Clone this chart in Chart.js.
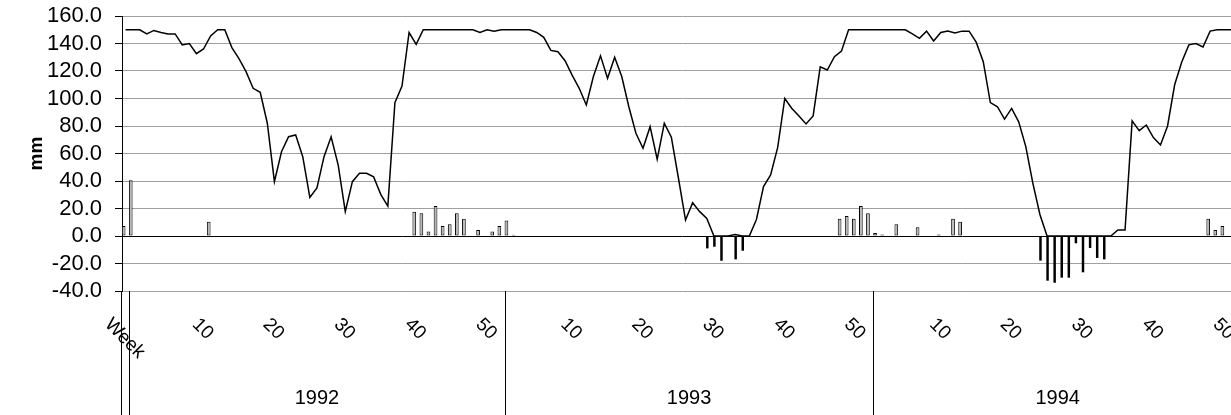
<!DOCTYPE html>
<html lang="en">
<head>
    <meta charset="UTF-8">
    <title>Soil water balance 1992-1994</title>
    <script src="https://cdn.jsdelivr.net/npm/chart.js"></script>
    <style>
        html, body { margin: 0; padding: 0; overflow: hidden; background: #fff; }
    </style>
</head>
<body>
    <canvas id="balanceChart" width="1242" height="415"></canvas>

    <script>
        // categories: one leading "Week" slot, then the weeks of each year
        var years = ['1992', '1993', '1994'];
        var firstWeek = [0, 1, 1];
        var lastWeek = [52, 52, 52];
        var labelEvery = 10;

        // soil water (mm), one value per category
        var water1992 = [150, 150, 150, 147, 149.5, 148, 147, 147, 139, 140,
            132.6, 136, 145.5, 150, 150, 137, 129, 119.5, 107.4, 104.5,
            82, 39.5, 61.3, 72.2, 73.5, 57.7, 28, 35, 57.7, 72.2,
            51.6, 17.7, 39.5, 45.6, 45.6, 43, 30.3, 21.8, 97, 109,
            148, 139.4, 150, 150, 150, 150, 150, 150, 150, 150,
            148, 150, 149, 150];
        var water1993 = [150, 150, 150, 150, 148, 144.5,
            135, 134, 127.5, 117, 107.4, 95.3, 116, 131, 114.7, 130,
            116, 94, 74.7, 63.8, 79.5, 55.8, 82, 71.8, 42, 11.6,
            24.2, 17.7, 12.8, 0, 0, 0, 1, 0, 0, 12,
            36, 44.4, 64.5, 100, 92.8, 87.3, 81.5, 87.3, 123, 120.7,
            130.4, 134.5, 150, 150, 150, 150];
        var water1994 = [150, 150, 150, 150,
            150, 147, 143.8, 149, 141.8, 148, 149, 147.6, 149, 149,
            141, 126.8, 97, 94, 85, 92.8, 83, 65, 38.3, 15.5,
            0, 0, 0, 0, 0, 0, 0, 0, 0, 0,
            4.4, 4.4, 83.7, 76.6, 80.7, 71.6, 66.2, 80, 110, 126.5,
            139, 140, 137.5, 149, 150, 150, 150, 150];

        // water surplus (mm)
        var surplus1992 = [7.3, 40.5, 0, 0, 0, 0, 0, 0, 0, 0,
            0, 0, 10.4, 0, 0, 0, 0, 0, 0, 0,
            0, 0, 0, 0, 0, 0, 0, 0, 0, 0,
            0, 0, 0, 0, 0, 0, 0, 0, 0, 0,
            0, 17.7, 16.5, 3.2, 21.8, 7.3, 8.5, 16.5, 12.5, 0,
            4.3, 0, 3.2, 7.3];
        var surplus1993 = [11.3, 1, 0, 0, 0, 0,
            0, 0, 0, 0, 0, 0, 0, 0, 0, 0,
            0, 0, 0, 0, 0, 0, 0, 0, 0, 0,
            0, 0, 0, 0, 0, 0, 0, 0, 0, 0,
            0, 0, 0, 0, 0, 0, 0, 0, 0, 0,
            0, 12.5, 14.5, 12.5, 21.8, 16.5];
        var surplus1994 = [2.2, 1.1, 0, 8.5,
            0, 0, 6.3, 0, 0, 1.1, 0, 12.5, 10.4, 0,
            0, 0, 0, 0, 0, 0, 0, 0, 0, 0,
            0, 0, 0, 0, 0, 0, 0, 0, 0, 0,
            0, 0, 0, 0, 0, 0, 0, 0, 0, 0,
            0, 0, 0, 12.5, 4.4, 7.3, 0, 0];

        // water deficit (mm, negative)
        var deficit1992 = new Array(54).fill(0);
        var deficit1993 = [0, 0, 0, 0, 0, 0,
            0, 0, 0, 0, 0, 0, 0, 0, 0, 0,
            0, 0, 0, 0, 0, 0, 0, 0, 0, 0,
            0, 0, -9, -7.8, -18, 0, -17, -10.7, 0, 0,
            0, 0, 0, 0, 0, 0, 0, 0, 0, 0,
            0, 0, 0, 0, 0, 0];
        var deficit1994 = [0, 0, 0, 0,
            0, 0, 0, 0, 0, 0, 0, 0, 0, 0,
            0, 0, 0, 0, 0, 0, 0, 0, 0, -17.9,
            -32.5, -34, -30.3, -30.3, -5.3, -26.4, -8.7, -16, -17, 0,
            0, 0, 0, 0, 0, 0, 0, 0, 0, 0,
            0, 0, 0, 0, 0, 0, 0, 0];

        // build the category list
        var labels = ['Week'];
        var weekNo = [null];
        var groupStart = [];
        years.forEach(function (y, k) {
            groupStart.push(labels.length);
            for (var w = firstWeek[k]; w <= lastWeek[k]; w++) {
                labels.push(String(w));
                weekNo.push(w);
            }
        });

        var water = water1992.concat(water1993, water1994);
        var surplus = surplus1992.concat(surplus1993, surplus1994).map(function (v) { return v || null; });
        var deficit = deficit1992.concat(deficit1993, deficit1994).map(function (v) { return v || null; });

        var font = '"Liberation Sans", Arial, sans-serif';

        // week labels (rotated down-right), year groups and their separators
        var groupAxis = {
            id: 'groupAxis',
            afterDraw: function (chart) {
                var ctx = chart.ctx;
                var area = chart.chartArea;
                var x = chart.scales.x;
                var half = (x.getPixelForValue(1) - x.getPixelForValue(0)) / 2;
                var bottom = chart.height;

                function vline(px) {
                    px = Math.round(px) + 0.5;
                    ctx.beginPath();
                    ctx.moveTo(px, area.bottom);
                    ctx.lineTo(px, bottom);
                    ctx.stroke();
                }

                ctx.save();
                ctx.strokeStyle = '#000';
                ctx.lineWidth = 1;
                vline(area.left - 1);
                var seps = groupStart.map(function (i) { return x.getPixelForValue(i) - half; });
                seps.forEach(vline);

                ctx.fillStyle = '#000';
                ctx.font = '19px ' + font;
                labels.forEach(function (lab, i) {
                    if (i > 0 && (weekNo[i] === 0 || weekNo[i] % labelEvery !== 0)) return;
                    var m = ctx.measureText(lab);
                    var h = m.actualBoundingBoxAscent + m.actualBoundingBoxDescent;
                    var ext = (m.width + h) * Math.SQRT1_2;
                    ctx.save();
                    ctx.translate(x.getPixelForValue(i), area.bottom + 25 + ext / 2);
                    ctx.rotate(Math.PI / 4);
                    ctx.fillText(lab, -m.width / 2, (m.actualBoundingBoxAscent - m.actualBoundingBoxDescent) / 2);
                    ctx.restore();
                });

                ctx.font = '20px ' + font;
                ctx.textAlign = 'center';
                ctx.textBaseline = 'middle';
                years.forEach(function (y, k) {
                    var end = k + 1 < seps.length ? seps[k + 1] : area.right;
                    ctx.fillText(y, (seps[k] + end) / 2, 398);
                });
                ctx.restore();
            }
        };

        var ctx = document.getElementById('balanceChart').getContext('2d');
        var balanceChart = new Chart(ctx, {
            type: 'bar',
            data: {
                labels: labels,
                datasets: [{
                    type: 'line',
                    label: 'Soil water',
                    data: water,
                    borderColor: '#000',
                    borderWidth: 1.5,
                    pointRadius: 0,
                    tension: 0,
                    fill: false,
                    order: 0
                }, {
                    label: 'Surplus',
                    data: surplus,
                    backgroundColor: '#b8b8b8',
                    borderColor: '#000',
                    borderWidth: 1,
                    borderSkipped: false,
                    categoryPercentage: 1.066,
                    barPercentage: 0.98,
                    order: 1
                }, {
                    label: 'Deficit',
                    data: deficit,
                    backgroundColor: '#000',
                    borderWidth: 0,
                    categoryPercentage: 0.28,
                    barPercentage: 2.5,
                    order: 1
                }]
            },
            options: {
                responsive: false,
                animation: false,
                layout: { padding: 0 },
                scales: {
                    x: {
                        ticks: { display: false },
                        grid: { display: false },
                        border: { display: false },
                        afterFit: function (s) { s.height = 124; }
                    },
                    y: {
                        min: -40,
                        max: 160,
                        ticks: {
                            stepSize: 20,
                            autoSkip: false,
                            color: '#000',
                            padding: 13,
                            font: { family: font, size: 22 },
                            callback: function (v) { return v.toFixed(1); }
                        },
                        grid: {
                            color: function (c) { return c.tick && c.tick.value === 0 ? '#000' : '#a0a0a0'; },
                            tickColor: '#000',
                            tickLength: 7
                        },
                        border: { color: '#000' },
                        title: {
                            display: true,
                            text: 'mm',
                            color: '#000',
                            font: { family: font, size: 19, weight: 'bold' },
                            padding: { top: 25, bottom: 0 }
                        },
                        afterFit: function (s) {
                            s.width = 122;
                            s.paddingTop = 16;
                            s.paddingBottom = 0;
                        }
                    }
                },
                plugins: {
                    legend: { display: false },
                    tooltip: { enabled: false }
                }
            },
            plugins: [groupAxis]
        });
    </script>
</body>
</html>
